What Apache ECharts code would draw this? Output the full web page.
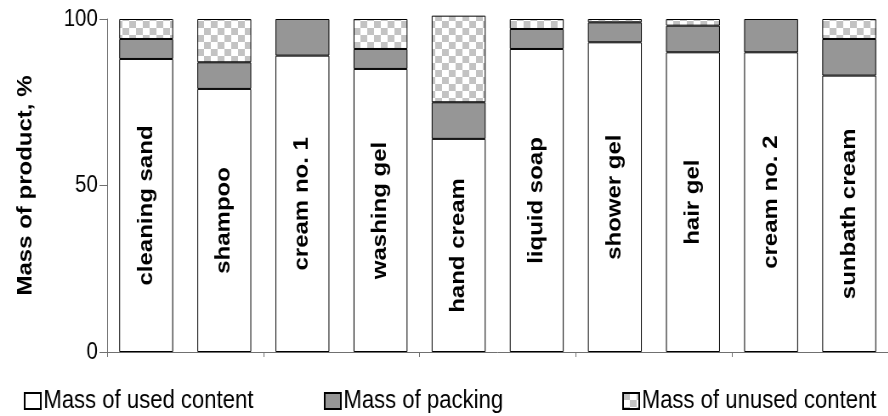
<!DOCTYPE html>
<html>
<head>
<meta charset="utf-8">
<script src="https://cdn.jsdelivr.net/npm/echarts@6/dist/echarts.min.js"></script>
<style>
  html, body { margin: 0; padding: 0; background: #fff; overflow: hidden; }
  #wrap { width: 888px; height: 416px; overflow: hidden; }
  /* chart is laid out wide and narrowed horizontally */
  #chart { width: 1045px; height: 416px; transform: scaleX(0.85); transform-origin: 0 0; }
</style>
</head>
<body>
<div id="wrap"><div id="chart"></div></div>
<script>
const categories = ['cleaning sand', 'shampoo', 'cream no. 1', 'washing gel', 'hand cream',
                    'liquid soap', 'shower gel', 'hair gel', 'cream no. 2', 'sunbath cream'];
const usedContent   = [88, 79, 89, 85, 64, 91, 93, 90, 90, 83];
const packing       = [6, 8, 11, 6, 11, 6, 6, 8, 10, 11];
const unusedContent = [6, 13, null, 9, 26, 3, 1, 2, null, 6];
const yTicks = [0, 50, 100];

// checkerboard fill for the unused content
function checker() {
  const c = document.createElement('canvas');
  const w = 8, h = 7;
  c.width = w * 2; c.height = h * 2;
  const ctx = c.getContext('2d');
  ctx.fillStyle = '#ffffff';
  ctx.fillRect(0, 0, c.width, c.height);
  ctx.fillStyle = '#c3c3c3';
  ctx.fillRect(0, 0, w, h);
  ctx.fillRect(w, h, w, h);
  return c;
}

const font = 'Liberation Sans, Arial, sans-serif';
const chart = echarts.init(document.getElementById('chart'), null, { renderer: 'canvas' });

const legendBase = {
  orient: 'horizontal', top: 383, icon: 'rect', itemWidth: 19, itemHeight: 16,
  textStyle: { fontSize: 26, color: '#000', fontFamily: font, padding: [0, 0, 0, -2] },
  selectedMode: false
};

chart.setOption({
  animation: false,
  backgroundColor: '#fff',
  grid: { left: 126, top: 19, width: 922, height: 333 },
  legend: [
    Object.assign({}, legendBase, { left: 23, data: ['Mass of used content'] }),
    Object.assign({}, legendBase, { left: 376, data: ['Mass of packing'] }),
    Object.assign({}, legendBase, { left: 727, data: ['Mass of unused content'] })
  ],
  xAxis: {
    type: 'category',
    data: categories,
    axisLine: { lineStyle: { color: '#707070', width: 1 } },
    axisTick: { show: true, length: 5, lineStyle: { color: '#707070' } },
    axisLabel: { show: false },
    splitLine: { show: false }
  },
  yAxis: {
    type: 'value',
    min: yTicks[0], max: yTicks[yTicks.length - 1], interval: 50,
    name: 'Mass of product, %',
    nameLocation: 'middle',
    nameRotate: 90,
    nameGap: 84,
    nameTextStyle: { fontSize: 24, fontWeight: 'bold', color: '#000', fontFamily: font },
    axisLine: { show: true, lineStyle: { color: '#707070', width: 1 } },
    axisTick: { show: true, length: 9, lineStyle: { color: '#707070' } },
    axisLabel: { fontSize: 24, color: '#000', fontFamily: font, margin: 11 },
    splitLine: { show: false }
  },
  series: [
    {
      name: 'Mass of used content',
      type: 'bar', stack: 'mass', barWidth: '69%', clip: false,
      data: usedContent,
      itemStyle: { color: '#ffffff', borderColor: '#000', borderWidth: 1 },
      label: {
        show: true, position: 'inside', rotate: 90, formatter: '{b}',
        fontSize: 24, fontWeight: 'bold', color: '#000', fontFamily: font
      }
    },
    {
      name: 'Mass of packing',
      type: 'bar', stack: 'mass', barWidth: '69%', clip: false,
      data: packing,
      itemStyle: { color: '#969696', borderColor: '#000', borderWidth: 1 }
    },
    {
      name: 'Mass of unused content',
      type: 'bar', stack: 'mass', barWidth: '69%', clip: false,
      data: unusedContent,
      itemStyle: { color: { image: checker(), repeat: 'repeat' }, borderColor: '#000', borderWidth: 1 }
    }
  ]
});
</script>
</body>
</html>
